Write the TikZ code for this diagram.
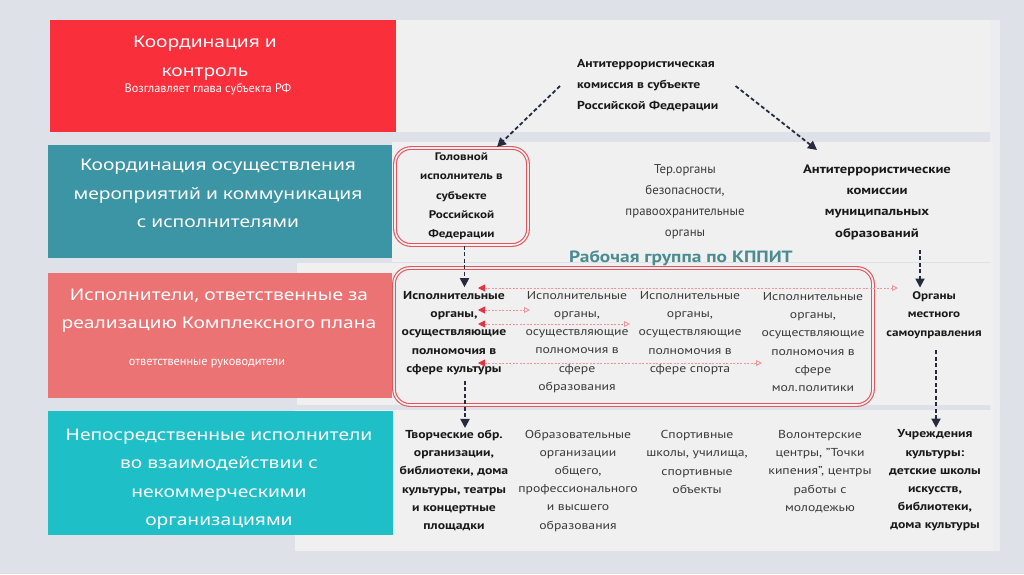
\documentclass[tikz,border=0pt]{standalone}
\usepackage{fontspec}
\setmainfont{PT Sans}[FakeStretch=1.19]
\newfontfamily\headfont{Noto Sans}[FakeStretch=1.2]
\newfontfamily\narrowfont{PT Sans}
\usepackage{tikz}
\usetikzlibrary{arrows.meta}
\definecolor{backgr}{HTML}{DEE1E8}
\definecolor{panel}{HTML}{F0F0F0}
\definecolor{hotred}{HTML}{FA2F3C}
\definecolor{sea}{HTML}{3C95A4}
\definecolor{salmon}{HTML}{EC7373}
\definecolor{aqua}{HTML}{1FBFC8}
\definecolor{frame}{HTML}{E5535C}
\definecolor{navy}{HTML}{262A3C}
\definecolor{dotpink}{HTML}{F0969C}
\definecolor{tipred}{HTML}{E8303F}
\definecolor{groupcol}{HTML}{4B8C91}
\definecolor{txt}{HTML}{3A3A3A}

\begin{document}
\begin{tikzpicture}[x=1pt,y=-1pt,
 head/.style={font=\headfont\fontsize{16}{28.5}\selectfont,text=white,align=center,inner sep=0},
 sub/.style={font=\narrowfont\fontsize{12.3}{14}\selectfont,text=white,inner sep=0},
 col/.style={font=\fontsize{11.5}{18.2}\selectfont,text=txt,align=center,inner sep=0},
 colb/.style={col,font=\bfseries\fontsize{11.5}{18.2}\selectfont,text=black!90},
 framebox/.style={draw=frame,double=panel,double distance=1.6pt,line width=1.1pt,rounded corners=16pt},
 darr/.style={navy,line width=1.8pt,dash pattern=on 4pt off 2.5pt,-{Triangle[length=9pt,width=9pt]}},
 warr/.style={dotpink,line width=0.9pt,dash pattern=on 2pt off 1.5pt,
  {Triangle[color=tipred,length=7pt,width=7pt]}-{Triangle[open,length=6pt,width=6pt]}}]
% bands
\fill[backgr] (0,0) rectangle (1024,574);
\fill[backgr!60!white] (990,20) rectangle (1000,551);
\fill[panel] (396,20) rectangle (990,132);
\fill[panel] (392,142) rectangle (993,262);
\fill[panel] (297,263) rectangle (993,405);
\fill[panel] (295,410) rectangle (993,551);
\fill[hotred] (50,20) rectangle (396,132);
\fill[sea] (48,145) rectangle (392,258);
\fill[salmon] (48,273) rectangle (392,398);
\fill[aqua] (48,411) rectangle (393,535);
% left titles
\node[head] (t1) at (205,58) {Координация и\\контроль};
\node[sub] (t1s) at (208,89) {Возглавляет глава субъекта РФ};
\node[head] (t2) at (218,193.5) {Координация осуществления\\мероприятий и коммуникация\\с исполнителями};
\node[head] (t3) at (219,310.5) {Исполнители, ответственные за\\реализацию Комплексного плана};
\node[sub] (t3s) at (207,364) {ответственные руководители};
\node[head] (t4) at (219,479) {Непосредственные исполнители\\во взаимодействии с\\некоммерческими\\организациями};
% row 1 and 2
\node[colb,align=left,anchor=west,font=\bfseries\fontsize{11.5}{21}\selectfont] (akc) at (577,86)
 {Антитеррористическая\\комиссия в субъекте\\Российской Федерации};
\node[colb,framebox,font=\bfseries\fontsize{11}{19.3}\selectfont,minimum width=133,minimum height=97] (hd)
 at (461.5,196.5) {Головной\\исполнитель в\\субъекте\\Российской\\Федерации};
\node[col,font=\narrowfont\fontsize{12.8}{21}\selectfont] (ter) at (685,201.5) {Тер.органы\\безопасности,\\правоохранительные\\органы};
\node[colb,font=\bfseries\fontsize{12.3}{21.3}\selectfont] (amo) at (877,202) {Антитеррористические\\комиссии\\муниципальных\\образований};
\node[font=\bfseries\fontsize{16.3}{18}\selectfont,text=groupcol] (wgt) at (681,258) {Рабочая группа по КППИТ};
% row 3
\node[framebox,minimum width=479,minimum height=137] (wg) at (633.5,336.5) {};
\node[colb] (c1) at (454,333) {Исполнительные\\органы,\\осуществляющие\\полномочия в\\сфере культуры};
\node[col] (c2) at (577,342) {Исполнительные\\органы,\\осуществляющие\\полномочия в\\сфере\\образования};
\node[col] (c3) at (690,333) {Исполнительные\\органы,\\осуществляющие\\полномочия в\\сфере спорта};
\node[col] (c4) at (813,342) {Исполнительные\\органы,\\осуществляющие\\полномочия в\\сфере\\мол.политики};
\node[colb,font=\bfseries\fontsize{11}{18.2}\selectfont] (oms) at (934,315) {Органы\\местного\\самоуправления};
% row 4
\node[colb] (d1) at (454,480.5) {Творческие обр.\\организации,\\библиотеки, дома\\культуры, театры\\и концертные\\площадки};
\node[col] (d2) at (578,480.5) {Образовательные\\организации\\общего,\\профессионального\\и высшего\\образования};
\node[col] (d3) at (697,462) {Спортивные\\школы, училища,\\спортивные\\объекты};
\node[col] (d4) at (820,471.5) {Волонтерские\\центры, "Точки\\кипения", центры\\работы с\\молодежью};
\node[colb] (uk) at (935,480.5) {Учреждения\\культуры:\\детские школы\\искусств,\\библиотеки,\\дома культуры};
% connectors
\coordinate (hdtop) at (497,147);
\coordinate (amotop) at (817,150);
\draw[darr] ([xshift=-17pt]akc.west) -- (hdtop);
\draw[darr] ([xshift=17pt]akc.east) -- (amotop);
\draw[darr,shorten >=4pt] ([xshift=3pt]hd.south) -- ([xshift=3pt]hd.south |- c1.north);
\draw[darr,shorten <=6pt,shorten >=2pt] ([xshift=11pt]c1.south) -- ([xshift=11pt]c1.south |- d1.north);
\draw[darr,shorten <=10pt,shorten >=4pt] ([xshift=43pt]amo.south) -- ([xshift=43pt]amo.south |- oms.north);
\draw[darr,shorten <=12pt,shorten >=2pt] ([xshift=2pt]oms.south) -- ([xshift=2pt]oms.south |- uk.north);
\foreach \y/\e [count=\i] in {288/898,310/530,324/630,363/762} {
 \coordinate (wa\i) at (478,\y);
 \coordinate (wb\i) at (\e,\y);
 \draw[warr] (wa\i) -- (wb\i);
}
\end{tikzpicture}
\end{document}
